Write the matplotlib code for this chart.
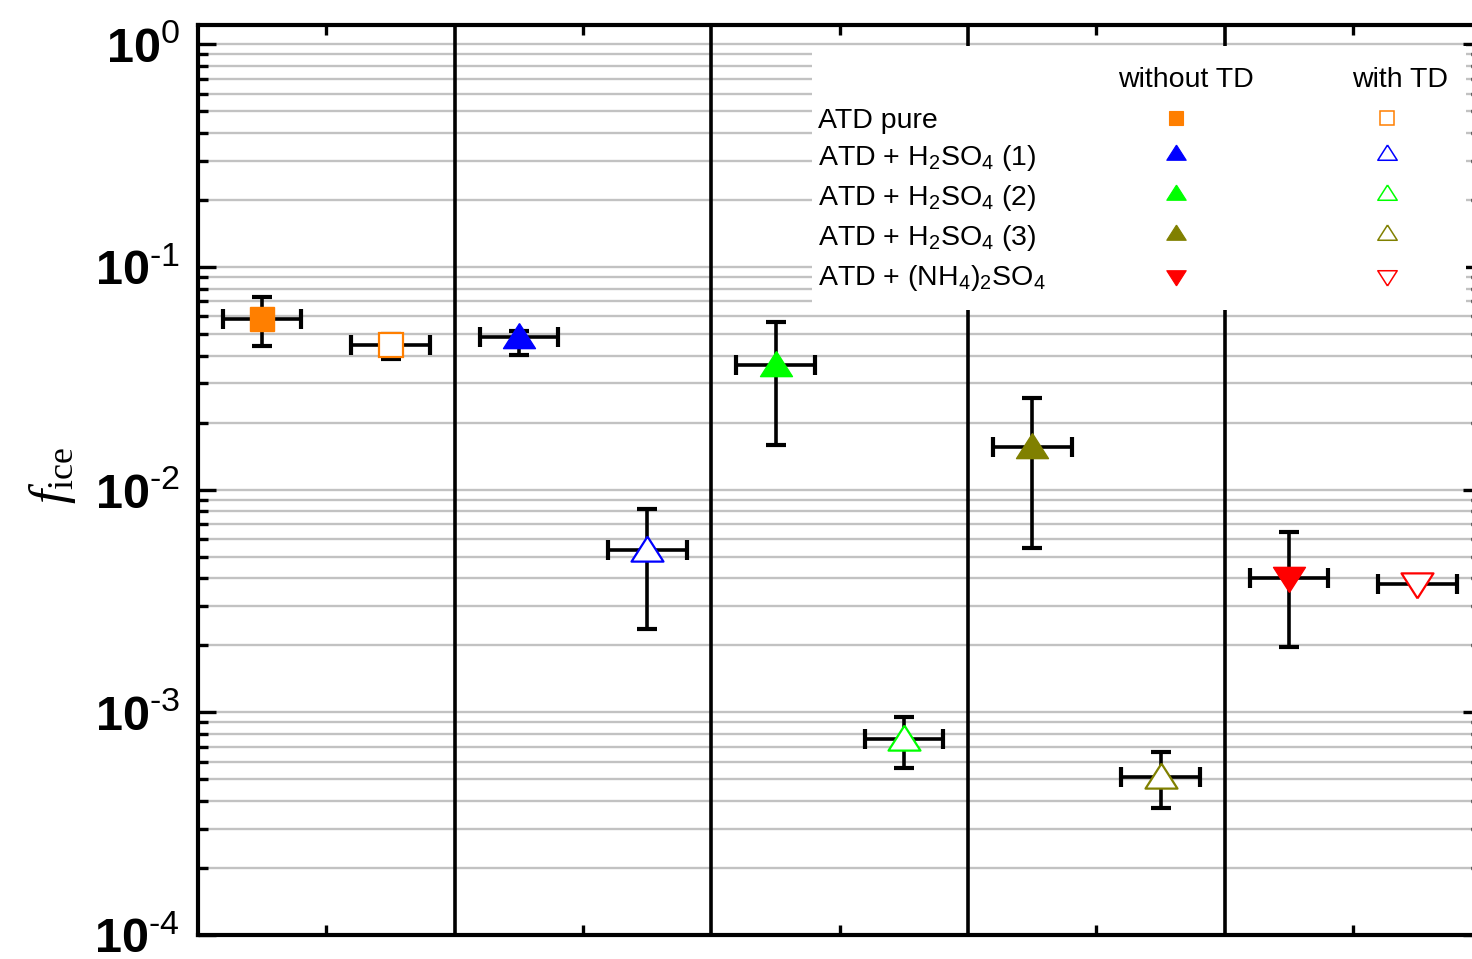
import numpy as np
import matplotlib
matplotlib.use("Agg")
import matplotlib.pyplot as plt
from matplotlib.patches import Rectangle
from matplotlib.ticker import FixedLocator, LogLocator, NullFormatter, FixedFormatter

plt.rcParams['font.family'] = ['Liberation Sans', 'DejaVu Sans']
plt.rcParams['mathtext.fontset'] = 'custom'
plt.rcParams['mathtext.rm'] = 'Liberation Sans'
plt.rcParams['mathtext.bf'] = 'Liberation Sans:bold'
plt.rcParams['mathtext.it'] = 'Liberation Serif:italic'
plt.rcParams['mathtext.sf'] = 'Liberation Serif'
plt.rcParams['mathtext.default'] = 'regular'

# ---------------- data ----------------
samples = ['ATD pure', 'ATD + H$_2$SO$_4$ (1)', 'ATD + H$_2$SO$_4$ (2)',
           'ATD + H$_2$SO$_4$ (3)', 'ATD + (NH$_4$)$_2$SO$_4$']
colors = ['#ff7f00', '#0000ff', '#00ff00', '#808000', '#ff0000']
markers = ['s', 'up', 'up', 'up', 'down']

# without thermodenuder
f_wo = [0.0582, 0.0487, 0.0363, 0.0156, 0.00402]
f_wo_hi = [0.0736, 0.0516, 0.0568, 0.0257, 0.00643]
f_wo_lo = [0.0442, 0.0403, 0.0159, 0.00546, 0.00196]
# with thermodenuder
f_td = [0.0446, 0.00538, 0.000762, 0.000513, 0.00375]
f_td_hi = [0.0501, 0.00822, 0.000953, 0.000664, np.nan]
f_td_lo = [0.0385, 0.00236, 0.000561, 0.000370, np.nan]

x_err = 0.153
group_pos = [1, 2, 3, 4, 5]
offset = 0.25
y_ticks = [1e-4, 1e-3, 1e-2, 1e-1, 1e0]
y_ticklabels = [r'$\mathbf{10}^{‐4}$', r'$\mathbf{10}^{‐3}$', r'$\mathbf{10}^{‐2}$',
                r'$\mathbf{10}^{‐1}$', r'$\mathbf{10}^{0}$']

# ---------------- figure ----------------
W, H = 1472, 959
fig = plt.figure(figsize=(W / 100, H / 100), dpi=100)
ax = fig.add_axes([198 / W, 1 - 935 / H, 1283.5 / W, 910 / H])
ax.set_yscale('log')
ax.set_xlim(0.5, 5.5)
ax.set_ylim(1e-4, 1.22)

tri_up = [(0, 1.0), (-1.15, -0.8), (1.15, -0.8), (0, 1.0)]
tri_dn = [(0, -1.0), (-1.15, 0.8), (1.15, 0.8), (0, -1.0)]
def mk(m):
    return {'s': 's', 'up': tri_up, 'down': tri_dn}[m]

ax.set_axisbelow(True)
ax.grid(True, which='both', axis='y', color='#c2c2c2', lw=1.7)
for xs in [1.5, 2.5, 3.5, 4.5]:
    ax.axvline(xs, color='black', lw=2.6, zorder=2)

for i, g in enumerate(group_pos):
    for (vals, hi, lo, xoff, filled) in [(f_wo, f_wo_hi, f_wo_lo, -offset, True),
                                         (f_td, f_td_hi, f_td_lo, offset, False)]:
        xv = g + xoff
        yv = vals[i]
        yerr = np.array([[yv - lo[i]], [hi[i] - yv]])
        ax.errorbar([xv], [yv], xerr=x_err, yerr=yerr, fmt='none',
                    ecolor='black', elinewidth=2.6, capsize=7.5, capthick=3,
                    zorder=4)
        size = 17 if markers[i] == 's' else 23
        if filled:
            ax.plot([xv], [yv], linestyle='none', marker=mk(markers[i]),
                    markersize=size, color=colors[i], mec=colors[i], mew=1,
                    zorder=5)
        else:
            ax.plot([xv], [yv], linestyle='none', marker=mk(markers[i]),
                    markersize=size, mfc='white', mec=colors[i], mew=1.6,
                    zorder=5)

# axes styling
for sp in ax.spines.values():
    sp.set_linewidth(3)
    sp.set_zorder(6)
ax.xaxis.set_major_locator(FixedLocator(group_pos))
ax.xaxis.set_major_formatter(NullFormatter())
ax.tick_params(axis='x', which='major', direction='in', length=7, width=2.4,
               top=True, bottom=True, labelbottom=False)
ax.yaxis.set_major_locator(FixedLocator(y_ticks))
ax.yaxis.set_major_formatter(FixedFormatter(y_ticklabels))
ax.yaxis.set_minor_locator(LogLocator(base=10, subs=np.arange(2, 10), numticks=20))
ax.yaxis.set_minor_formatter(NullFormatter())
ax.tick_params(axis='y', which='major', direction='in', length=13, width=2.4,
               left=True, right=True, labelsize=35, pad=13)
ax.tick_params(axis='y', which='minor', direction='in', length=7, width=2.4,
               left=True, right=True)

fig.text(52 / W, 1 - 476 / H, r'$\mathit{f}_{\mathsf{ice}}$', rotation=90,
         fontsize=37, ha='center', va='center')

# ---------------- legend box ----------------
box = Rectangle((812 / W, 1 - 310 / H), (1466 - 812) / W, (310 - 46) / H,
                transform=fig.transFigure, facecolor='white', edgecolor='none',
                zorder=7)
ax.add_patch(box)
fs = 20.5
fig.text(1186 / W, 1 - 80 / H, 'without TD', fontsize=fs, ha='center', va='center', zorder=8)
fig.text(1400 / W, 1 - 80 / H, 'with TD', fontsize=fs, ha='center', va='center', zorder=8)
row_y = [118, 155, 195, 235, 275]
for i, lab in enumerate(samples):
    yb = 1 - (row_y[i] + 10) / H
    fig.text(818 / W, yb, lab, fontsize=fs, ha='left', va='baseline', zorder=8)
    lsize = 10 if markers[i] == 's' else 14
    yl = row_y[i] - 2 if markers[i] == 'up' else row_y[i] + (2 if markers[i] == 'down' else 0)
    ax.plot([1176 / W], [1 - yl / H], transform=fig.transFigure, linestyle='none',
            marker=mk(markers[i]), markersize=lsize, color=colors[i], mec=colors[i],
            mew=0.8, zorder=9, clip_on=False)
    ax.plot([1387 / W], [1 - yl / H], transform=fig.transFigure, linestyle='none',
            marker=mk(markers[i]), markersize=lsize, mfc='white', mec=colors[i],
            mew=1.1, zorder=9, clip_on=False)

fig.savefig('out.png', dpi=100)
